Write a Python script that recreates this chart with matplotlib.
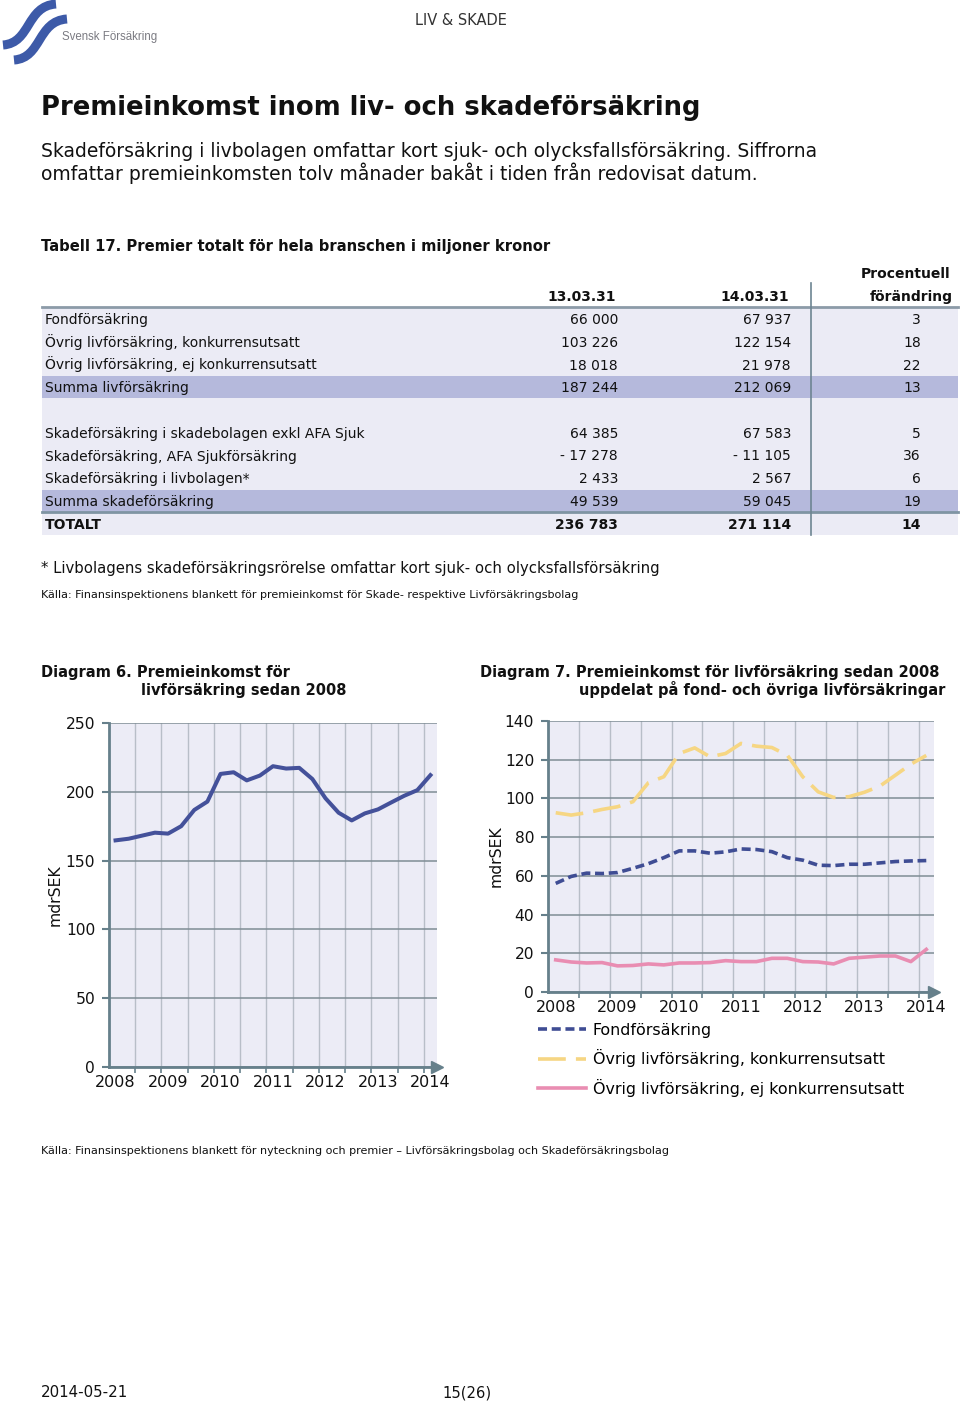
import matplotlib
matplotlib.use("Agg")
import matplotlib.pyplot as plt
from matplotlib.patches import Rectangle, PathPatch
from matplotlib.path import Path

plt.rcParams['font.family'] = ['DejaVu Sans']

# ---- data ----
quarters = list(range(25))          # 2008Q1 .. 2014Q1
years = ["2008", "2009", "2010", "2011", "2012", "2013", "2014"]

total_liv = [164.7, 165.9, 168.1, 170.3, 169.6, 175.0, 186.8, 192.9, 213.0, 214.2,
             208.3, 211.8, 218.6, 216.9, 217.4, 209.3, 195.3, 184.8, 179.2, 184.3,
             187.2, 192.2, 197.1, 201.2, 212.1]
fond = [56.1, 59.7, 61.4, 61.2, 61.7, 63.9, 66.3, 69.4, 72.9, 72.9,
        71.7, 72.4, 73.9, 73.6, 72.5, 69.4, 68.1, 65.5, 65.3, 66.0,
        66.0, 66.7, 67.4, 67.7, 67.9]
konk = [92.6, 91.4, 92.6, 94.3, 95.7, 98.3, 108.1, 111.2, 123.2, 126.1,
        121.5, 123.2, 128.4, 127.0, 126.3, 122.3, 111.2, 103.4, 100.5, 100.9,
        103.2, 106.4, 112.0, 117.7, 122.2]
ej_konk = [16.6, 15.5, 15.0, 15.2, 13.5, 13.7, 14.5, 14.0, 15.0, 15.0,
           15.2, 16.2, 15.7, 15.7, 17.4, 17.4, 15.7, 15.5, 14.5, 17.4,
           18.0, 18.6, 18.6, 15.7, 22.0]

row_labels = ["Fondförsäkring", "Övrig livförsäkring, konkurrensutsatt",
              "Övrig livförsäkring, ej konkurrensutsatt", "Summa livförsäkring", "",
              "Skadeförsäkring i skadebolagen exkl AFA Sjuk",
              "Skadeförsäkring, AFA Sjukförsäkring", "Skadeförsäkring i livbolagen*",
              "Summa skadeförsäkring", "TOTALT"]
v13 = [66000, 103226, 18018, 187244, None, 64385, -17278, 2433, 49539, 236783]
v14 = [67937, 122154, 21978, 212069, None, 67583, -11105, 2567, 59045, 271114]
pct = [3, 18, 22, 13, None, 5, 36, 6, 19, 14]
sum_rows = [3, 8]

W, H = 960, 1404
BG = '#ececf6'
SP = '#66808b'
TXT = '#111111'
TS = 10.0   # table font size


def fmt(v):
    s = f"{abs(v):,}".replace(",", " ")
    return ("- " if v < 0 else "") + s


def box(l, t, r, b):
    return [l / W, 1 - b / H, (r - l) / W, (b - t) / H]


fig = plt.figure(figsize=(9.6, 14.04), dpi=100)
page = fig.add_axes([0, 0, 1, 1])
page.set_xlim(0, W)
page.set_ylim(H, 0)
page.axis('off')

# logo
for dx, dy in [(0, 0), (11, 15)]:
    verts = [(3 + dx, 45 + dy), (31 + dx, 43 + dy), (26 + dx, 6 + dy), (56 + dx, 4 + dy)]
    p = Path(verts, [Path.MOVETO, Path.CURVE4, Path.CURVE4, Path.CURVE4])
    page.add_patch(PathPatch(p, fc='none', ec='#3d5aa8', lw=6.5, capstyle='butt'))
page.text(62, 40, "Svensk Försäkring", fontsize=8.3, color='#7b7b82',
          family=['Liberation Sans', 'DejaVu Sans'])

page.text(461, 25, "LIV & SKADE", fontsize=10.5, ha='center', color='#333333')

page.text(41, 115, "Premieinkomst inom liv- och skadeförsäkring", fontsize=18.6,
          weight='bold', color=TXT)
page.text(41, 157, "Skadeförsäkring i livbolagen omfattar kort sjuk- och olycksfallsförsäkring. Siffrorna",
          fontsize=13.5, color=TXT)
page.text(41, 180, "omfattar premieinkomsten tolv månader bakåt i tiden från redovisat datum.",
          fontsize=13.5, color=TXT)

page.text(41, 251, "Tabell 17. Premier totalt för hela branschen i miljoner kronor",
          fontsize=10.6, weight='bold', color=TXT)

# table
page.add_patch(Rectangle((42, 307), 916, 228, fc='#ebebf5', ec='none'))
page.plot([42, 958], [307, 307], color='#8c9ba8', lw=2)
row_y = [319 + 22.75 * i for i in range(len(row_labels))]
for i in sum_rows:
    page.add_patch(Rectangle((42, row_y[i] - 11), 916, 22, fc='#b5b9dc', ec='none'))
page.plot([42, 958], [512, 512], color='#7f94a3', lw=2)
page.plot([811, 811], [283, 535], color='#6d8592', lw=1.2)

page.text(950, 278, "Procentuell", fontsize=TS, weight='bold', ha='right', color=TXT)
page.text(953, 301, "förändring", fontsize=TS, weight='bold', ha='right', color=TXT)
page.text(616, 301, "13.03.31", fontsize=TS, weight='bold', ha='right', color=TXT)
page.text(789, 301, "14.03.31", fontsize=TS, weight='bold', ha='right', color=TXT)

for i, lab in enumerate(row_labels):
    if v13[i] is None:
        continue
    w = 'bold' if lab == "TOTALT" else 'normal'
    yb = row_y[i] + 5
    page.text(45, yb, lab, fontsize=TS, weight=w, color=TXT)
    page.text(618, yb, fmt(v13[i]), fontsize=TS, weight=w, ha='right', color=TXT)
    page.text(791, yb, fmt(v14[i]), fontsize=TS, weight=w, ha='right', color=TXT)
    page.text(921, yb, str(pct[i]), fontsize=TS, weight=w, ha='right', color=TXT)

page.text(41, 573, "* Livbolagens skadeförsäkringsrörelse omfattar kort sjuk- och olycksfallsförsäkring",
          fontsize=10.7, color=TXT)
page.text(41, 597.5, "Källa: Finansinspektionens blankett för premieinkomst för Skade- respektive Livförsäkringsbolag",
          fontsize=8, color=TXT)

page.text(41, 677, "Diagram 6. Premieinkomst för", fontsize=10.5, weight='bold', color=TXT)
page.text(141, 695, "livförsäkring sedan 2008", fontsize=10.5, weight='bold', color=TXT)
page.text(480, 677, "Diagram 7. Premieinkomst för livförsäkring sedan 2008", fontsize=10.5,
          weight='bold', color=TXT)
page.text(579, 695, "uppdelat på fond- och övriga livförsäkringar", fontsize=10.5,
          weight='bold', color=TXT)

page.text(41, 1153.5, "Källa: Finansinspektionens blankett för nyteckning och premier – Livförsäkringsbolag och Skadeförsäkringsbolag",
          fontsize=8, color=TXT)
page.text(41, 1397, "2014-05-21", fontsize=10.8, color=TXT)
page.text(442, 1397, "15(26)", fontsize=10.6, color=TXT)


def style(ax, ymax, ystep, lpad):
    ax.set_facecolor(BG)
    ax.set_xlim(-0.5, 24.5)
    ax.set_ylim(0, ymax)
    ax.set_yticks(range(0, ymax + 1, ystep))
    ax.set_xticks(range(0, 25, 4))
    ax.set_xticklabels(years)
    ax.set_xticks([1.5 + 2 * k for k in range(12)], minor=True)
    ax.set_axisbelow(True)
    ax.grid(axis='y', color='#7f8d95', lw=1.1)
    ax.grid(axis='x', which='minor', color='#b8bec8', lw=1)
    ax.tick_params(axis='x', which='major', length=0, pad=6, labelsize=11.5, colors=TXT)
    ax.tick_params(axis='x', which='minor', length=4, color=SP, width=1.2)
    ax.tick_params(axis='y', length=5, color=SP, width=1.5, pad=5, labelsize=11.2, labelcolor=TXT)
    for s in ['top', 'right']:
        ax.spines[s].set_visible(False)
    for s in ['left', 'bottom']:
        ax.spines[s].set_color(SP)
        ax.spines[s].set_linewidth(2)
    ax.plot([1.0], [0], marker='>', ms=8, color=SP, transform=ax.transAxes, clip_on=False)
    ax.set_ylabel("mdrSEK", fontsize=11.3, labelpad=lpad, color=TXT)


ax6 = fig.add_axes(box(109, 723, 437, 1067))
style(ax6, 250, 50, 2)
ax6.plot(quarters, total_liv, color='#44519a', lw=2.9, solid_joinstyle='round')

ax7 = fig.add_axes(box(548, 721, 934, 992))
style(ax7, 140, 20, 1)
l1, = ax7.plot(quarters, fond, color='#3f4d94', lw=2.6, dashes=(2.5, 1.3),
               label="Fondförsäkring")
l2, = ax7.plot(quarters, konk, color='#f6d683', lw=2.6, dashes=(7.7, 2.8),
               label="Övrig livförsäkring, konkurrensutsatt")
l3, = ax7.plot(quarters, ej_konk, color='#e98db2', lw=2.6,
               label="Övrig livförsäkring, ej konkurrensutsatt")
ax7.legend(handles=[l1, l2, l3], loc='upper left', bbox_to_anchor=(538 / W, 1 - 1023 / H),
           bbox_transform=fig.transFigure, frameon=False, handlelength=3.0,
           handletextpad=0.45, labelspacing=0.72, borderaxespad=0, borderpad=0,
           fontsize=11.4)

fig.savefig("out.png", dpi=100, facecolor='white')
